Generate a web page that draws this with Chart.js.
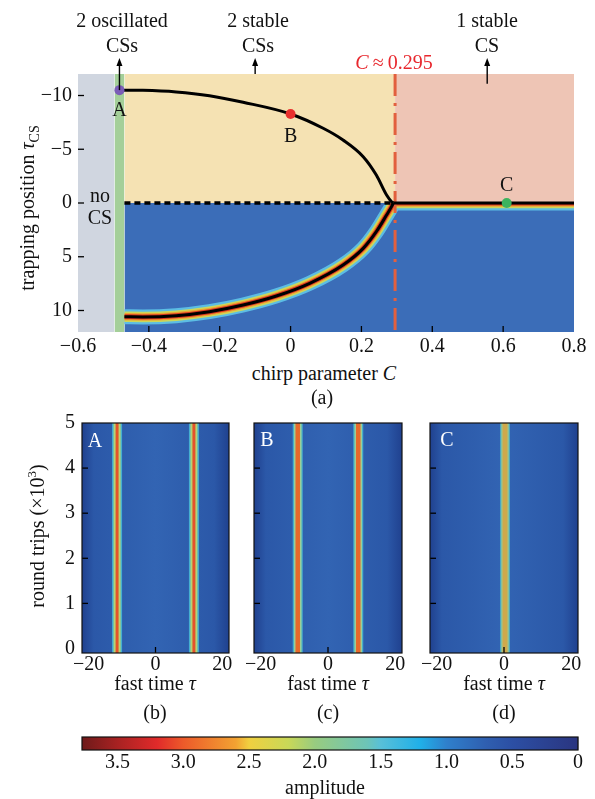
<!DOCTYPE html>
<html>
<head>
<meta charset="utf-8">
<script src="https://cdn.jsdelivr.net/npm/chart.js@4.4.1/dist/chart.umd.min.js"></script>
<style>
body { margin: 0; background: #fff; }
#page { position: relative; width: 595px; height: 799px; overflow: hidden; font-family: "Liberation Serif", "DejaVu Serif", serif; color: #111; }
canvas { position: absolute; left: 0; }
.t { position: absolute; font-size: 20px; line-height: 1; white-space: nowrap; transform: translate(-50%, -50%); }
.rot { transform: translate(-50%, -50%) rotate(-90deg); }
.w { color: #fff; }
.red { color: #e8282e; }
sub { font-size: 14px; vertical-align: -5px; line-height: 0; }
sup { font-size: 13px; vertical-align: 8px; line-height: 0; }
</style>
</head>
<body>
<div id="page">
  <canvas id="bifChart" width="595" height="360" style="top:0"></canvas>
  <canvas id="panelB" width="595" height="280" style="top:400px"></canvas>
  <canvas id="panelC" width="595" height="280" style="top:400px"></canvas>
  <canvas id="panelD" width="595" height="280" style="top:400px"></canvas>
  <canvas id="colorbar" width="595" height="60" style="top:720px"></canvas>

  <div class="t" style="left:122px;top:20px">2 oscillated</div>
  <div class="t" style="left:122px;top:45px">CSs</div>
  <div class="t" style="left:258px;top:20px">2 stable</div>
  <div class="t" style="left:258px;top:45px">CSs</div>
  <div class="t" style="left:487px;top:20px">1 stable</div>
  <div class="t" style="left:487px;top:45px">CS</div>
  <div class="t red" style="left:394px;top:62px"><i>C</i>&thinsp;≈&thinsp;0.295</div>
  <div class="t" style="left:100px;top:195px">no</div>
  <div class="t" style="left:100px;top:217px">CS</div>
  <div class="t rot" style="left:27px;top:208px">trapping position <i>τ</i><sub>CS</sub></div>
  <div class="t" style="left:324px;top:373px">chirp parameter <i>C</i></div>
  <div class="t" style="left:322px;top:397px">(a)</div>

  <div class="t rot" style="left:37px;top:536px">round trips (×10<sup>3</sup>)</div>
  <div class="t w" style="left:95px;top:440px">A</div>
  <div class="t w" style="left:267px;top:439px">B</div>
  <div class="t w" style="left:447px;top:439px">C</div>
  <div class="t" style="left:155px;top:683px">fast time <i>τ</i></div>
  <div class="t" style="left:328px;top:683px">fast time <i>τ</i></div>
  <div class="t" style="left:504px;top:683px">fast time <i>τ</i></div>
  <div class="t" style="left:155px;top:712px">(b)</div>
  <div class="t" style="left:328px;top:712px">(c)</div>
  <div class="t" style="left:504px;top:712px">(d)</div>
  <div class="t" style="left:325px;top:787px">amplitude</div>
</div>

<script>
// ---- data ----
const regionEdges = [-0.6, -0.497, -0.469, 0.295, 0.8];   // grey | green | 2 CSs | 1 CS
const criticalC = 0.295;

const upperC   = [-0.483, -0.417, -0.323, -0.229, -0.134, 0, 0.092, 0.148, 0.205, 0.242, 0.271, 0.285, 0.29];
const upperTau = [-10.5, -10.48, -10.33, -9.98, -9.37, -8.28, -6.95, -5.86, -4.31, -2.6, -0.74, -0.12, 0];
const lowerC   = [-0.469, -0.417, -0.323, -0.229, -0.134, -0.04, 0.054, 0.148, 0.205, 0.242, 0.271, 0.285, 0.29];
const lowerTau = [10.58, 10.6, 10.48, 10.11, 9.49, 8.65, 7.47, 5.77, 4.22, 2.67, 1.12, 0.34, 0];
const zeroDashedC = [-0.469, 0.29];
const zeroSolidC  = [0.29, 0.8];

const pointNames = ['A', 'B', 'C'];
const pointC     = [-0.483, 0, 0.61];
const pointTau   = [-10.5, -8.28, 0];

const arrowC      = [-0.483, -0.1, 0.555];
const arrowEndTau = [-10.5, -12, -11.1];

const stripesB = [-11.5, 11.5];
const stripesC = [-9, 9];
const stripesD = [0.3];

const ampMax = 3.77;

// ---- styling ----
Chart.defaults.font.family = '"Liberation Serif", "DejaVu Serif", serif';
Chart.defaults.font.size = 20;
Chart.defaults.color = '#111';

const minus = s => String(s).replace(/-/g, '\u2212');
const fmt1 = v => minus(v === 0 ? '0' : Number(v).toFixed(1));
const fmt0 = v => minus(Math.round(v));

const xy = (xs, ys) => xs.map((x, i) => ({ x: x, y: ys[i] }));
const flat = (xs, y) => xs.map(x => ({ x: x, y: y }));

// little tick marks drawn inside the plot
const innerTicks = {
  id: 'innerTicks',
  afterDatasetsDraw(chart, args, opts) {
    const ctx = chart.ctx, a = chart.chartArea, len = opts.len || 6;
    ctx.save();
    ctx.strokeStyle = opts.color || '#000';
    ctx.lineWidth = 1.3;
    ['x', 'y'].forEach(id => {
      const s = chart.scales[id];
      if (!s || !opts[id]) return;
      s.ticks.forEach((t, i) => {
        const p = s.getPixelForTick(i);
        if (id === 'x') {
          if (p < a.left + 8 || p > a.right - 8) return;
          ctx.beginPath(); ctx.moveTo(p, a.bottom); ctx.lineTo(p, a.bottom - len); ctx.stroke();
        } else {
          if (p < a.top + 8 || p > a.bottom - 8) return;
          ctx.beginPath(); ctx.moveTo(a.left, p); ctx.lineTo(a.left + len, p); ctx.stroke();
        }
      });
    });
    ctx.restore();
  }
};

// point letters and arrows for panel (a)
const markLabels = {
  id: 'markLabels',
  afterDraw(chart) {
    const ctx = chart.ctx, x = chart.scales.x, y = chart.scales.y;
    const dy = [21, 23, -17];
    ctx.save();
    ctx.fillStyle = '#111';
    ctx.font = '20px "Liberation Serif", serif';
    ctx.textAlign = 'center';
    ctx.textBaseline = 'middle';
    pointNames.forEach((n, i) => {
      ctx.fillText(n, x.getPixelForValue(pointC[i]), y.getPixelForValue(pointTau[i]) + dy[i]);
    });
    ctx.strokeStyle = '#000';
    ctx.fillStyle = '#000';
    ctx.lineWidth = 1.4;
    const tip = chart.chartArea.top - 16;
    arrowC.forEach((c, i) => {
      const px = x.getPixelForValue(c);
      const py = y.getPixelForValue(arrowEndTau[i]);
      ctx.beginPath(); ctx.moveTo(px, py); ctx.lineTo(px, tip + 6); ctx.stroke();
      ctx.beginPath(); ctx.moveTo(px, tip); ctx.lineTo(px - 3, tip + 8); ctx.lineTo(px + 3, tip + 8); ctx.closePath(); ctx.fill();
    });
    ctx.restore();
  }
};

// ---- panel (a) ----
const region = (x0, x1, yEdge, yTo, color) => ({
  data: [{ x: x0, y: yEdge }, { x: x1, y: yEdge }],
  borderWidth: 0, pointRadius: 0, backgroundColor: color,
  fill: { value: yTo }, order: 80
});
const glow = (data, color, w, order) => ({
  data: data, borderColor: color, borderWidth: w, pointRadius: 0,
  cubicInterpolationMode: 'monotone', fill: false, order: order
});

const lower = xy(lowerC, lowerTau);
const single = flat(zeroSolidC, 0);
const glowColors = [['#5cbde4', 15], ['#cad85c', 10.5], ['#f0a232', 7.5], ['#d8341f', 5]];
const glowSets = [];
glowColors.forEach(([c, w], k) => {
  glowSets.push(glow(lower, c, w, 95 - k));
  glowSets.push(glow(single, c, w, 95 - k));
});

const hiddenGrid = { display: false, drawTicks: false };

new Chart(document.getElementById('bifChart'), {
  type: 'line',
  data: {
    datasets: [
      Object.assign(region(regionEdges[2], regionEdges[4], 12, 0, '#3b6db8'), { order: 100 }),
      ...glowSets,
      region(regionEdges[0], regionEdges[1], -12, 12, '#d0d6e0'),
      region(regionEdges[1], regionEdges[2], -12, 12, '#a4cf99'),
      region(regionEdges[2], regionEdges[3], -12, 0, '#f5e2b3'),
      region(regionEdges[3], regionEdges[4], -12, 0, '#eec5b5'),
      { data: [{ x: criticalC, y: -12 }, { x: criticalC, y: 12 }], borderColor: '#e2603e',
        borderWidth: 3, borderDash: [22, 7, 3, 7], pointRadius: 0, order: 50 },
      { data: flat(zeroDashedC, 0), borderColor: '#000', borderWidth: 3.5, borderDash: [6, 4],
        pointRadius: 0, order: 40 },
      glow(xy(upperC, upperTau), '#000', 3, 30),
      glow(lower, '#000', 3, 30),
      glow(single, '#000', 3, 30),
      { data: xy(pointC, pointTau), showLine: false, pointRadius: 5, pointBorderWidth: 0,
        pointBackgroundColor: ['#7b5cb8', '#e8302e', '#3cb35e'], order: 10 }
    ]
  },
  options: {
    responsive: false, animation: false,
    layout: { padding: { top: 74, right: 21, left: 0, bottom: 0 } },
    plugins: { legend: { display: false }, tooltip: { enabled: false },
               innerTicks: { x: true, y: true, len: 6 } },
    scales: {
      x: { type: 'linear', min: -0.6, max: 0.8,
           grid: hiddenGrid, border: { display: false },
           ticks: { stepSize: 0.2, includeBounds: false, padding: 3, maxRotation: 0, callback: fmt1 },
           afterFit: s => { s.height = 28; } },
      y: { type: 'linear', min: -12, max: 12, reverse: true,
           grid: hiddenGrid, border: { display: false },
           ticks: { stepSize: 5, includeBounds: false, padding: 6, callback: fmt0 },
           afterFit: s => { s.width = 78; } }
    }
  },
  plugins: [innerTicks, markLabels]
});

// ---- panels (b)-(d) ----
const panelBg = {
  id: 'panelBg',
  beforeDatasetsDraw(chart) {
    const { ctx, chartArea: a } = chart;
    const g = ctx.createLinearGradient(a.left, 0, a.right, 0);
    g.addColorStop(0, '#20418f');
    g.addColorStop(0.08, '#2b58a8');
    g.addColorStop(0.5, '#3264b3');
    g.addColorStop(0.9, '#2b58a8');
    g.addColorStop(1, '#20418f');
    ctx.save();
    ctx.fillStyle = g;
    ctx.fillRect(a.left, a.top, a.width, a.height);
    ctx.restore();
  },
  afterDraw(chart) {
    const { ctx, chartArea: a } = chart;
    ctx.save();
    ctx.strokeStyle = '#111';
    ctx.lineWidth = 1.2;
    ctx.strokeRect(a.left, a.top, a.width, a.height);
    ctx.restore();
  }
};

function makePanel(id, left, right, stripes, layers, showY) {
  const sets = [];
  stripes.forEach(s => {
    layers.forEach(([c, w], k) => {
      sets.push({ data: [{ x: s, y: -0.1 }, { x: s, y: 5 }], borderColor: c, borderWidth: w,
                  pointRadius: 0, order: 10 - k });
    });
  });
  new Chart(document.getElementById(id), {
    type: 'line',
    data: { datasets: sets },
    options: {
      responsive: false, animation: false,
      layout: { padding: { top: 23, right: 595 - right, left: 0, bottom: 0 } },
      plugins: { legend: { display: false }, tooltip: { enabled: false },
                 innerTicks: { x: true, y: true, len: 6 } },
      scales: {
        x: { type: 'linear', min: -22, max: 22,
             grid: hiddenGrid, border: { display: false },
             ticks: { stepSize: 20, includeBounds: false, padding: 0, maxRotation: 0, callback: fmt0 },
             afterFit: s => { s.height = 27; } },
        y: { type: 'linear', min: -0.1, max: 5,
             grid: hiddenGrid, border: { display: false },
             ticks: { stepSize: 1, includeBounds: false, padding: 7, display: showY, callback: fmt0 },
             afterFit: s => { s.width = left; } }
      }
    },
    plugins: [panelBg, innerTicks]
  });
}

makePanel('panelB', 82, 229, stripesB, [['#45aed0', 10], ['#b4d474', 7], ['#e4532a', 3]], true);
makePanel('panelC', 254, 402, stripesC, [['#45aecc', 10], ['#9ccf96', 7.5], ['#e8692b', 4.5]], false);
makePanel('panelD', 430, 578, stripesD, [['#4aa8c4', 10], ['#9cc890', 7.5], ['#cfa94c', 5]], false);

// ---- colour bar ----
const cmapStops = [
  [3.77, '#6e1a1a'], [3.5, '#a82222'], [3.2, '#e02a2a'], [3.0, '#ec5a2a'], [2.6, '#f2a232'],
  [2.5, '#f0d040'], [2.2, '#c8d858'], [2.0, '#98cc80'], [1.6, '#6cc4b8'], [1.5, '#58c0d8'],
  [1.2, '#20b0e8'], [1.0, '#2f80cc'], [0.7, '#2f5fb0'], [0.5, '#2c4fa4'], [0, '#2a3580']
];

const barFrame = {
  id: 'barFrame',
  afterDraw(chart) {
    const { ctx, chartArea: a } = chart;
    ctx.save();
    ctx.strokeStyle = '#111';
    ctx.lineWidth = 1.2;
    ctx.strokeRect(a.left, a.top, a.width, a.height);
    ctx.restore();
  }
};

new Chart(document.getElementById('colorbar'), {
  type: 'bar',
  data: {
    labels: ['amplitude'],
    datasets: [{
      data: [[0, ampMax]],
      barPercentage: 1, categoryPercentage: 1, borderWidth: 0,
      backgroundColor: ctx => {
        const ch = ctx.chart, a = ch.chartArea, sx = ch.scales.x;
        if (!a || !sx) return '#3060b0';
        const g = ch.ctx.createLinearGradient(a.left, 0, a.right, 0);
        cmapStops.forEach(([v, c]) => {
          const f = (sx.getPixelForValue(v) - a.left) / (a.right - a.left);
          g.addColorStop(Math.min(1, Math.max(0, f)), c);
        });
        return g;
      }
    }]
  },
  options: {
    indexAxis: 'y',
    responsive: false, animation: false,
    layout: { padding: { top: 17, right: 17, left: 82, bottom: 0 } },
    plugins: { legend: { display: false }, tooltip: { enabled: false } },
    scales: {
      x: { type: 'linear', min: 0, max: ampMax, reverse: true, z: 1,
           grid: { color: '#222', lineWidth: 1.2, drawTicks: false }, border: { display: false },
           ticks: { stepSize: 0.5, includeBounds: false, padding: 1, maxRotation: 0, callback: fmt1 },
           afterFit: s => { s.height = 30; } },
      y: { display: false }
    }
  },
  plugins: [barFrame]
});
</script>
</body>
</html>
